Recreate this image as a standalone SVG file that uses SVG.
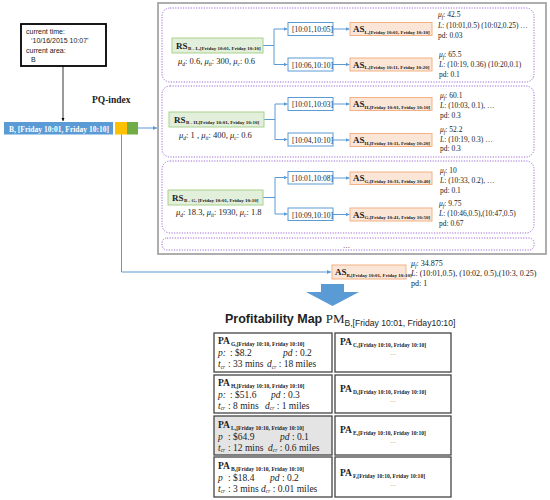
<svg xmlns="http://www.w3.org/2000/svg" width="550" height="500" viewBox="0 0 550 500">
<defs>
<marker id="ab" viewBox="0 0 6 6" refX="6" refY="3" markerWidth="4" markerHeight="4" orient="auto"><path d="M0,0 L6,3 L0,6 z" fill="#5b9bd5"/></marker>
<marker id="ak" viewBox="0 0 6 6" refX="6" refY="3" markerWidth="4" markerHeight="4" orient="auto"><path d="M0,0 L6,3 L0,6 z" fill="#000"/></marker>
<style>
text{font-family:"Liberation Serif",serif;fill:#222}
.sans{font-family:"Liberation Sans",sans-serif}
.cn{fill:none;stroke:#5b9bd5;stroke-width:1}
.dot{fill:none;stroke:#9d6bd6;stroke-width:1;stroke-dasharray:1.2 1.4}
.rs{fill:#e2efda;stroke:#a9d18e;stroke-width:1}
.as{fill:#fbe5d6;stroke:#f4b183;stroke-width:1}
.iv{fill:#fff;stroke:#5b9bd5;stroke-width:1}
.cell{fill:#fff;stroke:#444;stroke-width:1.3}
.lb{font-size:9px;font-weight:bold}
.sb{font-size:5px;font-weight:bold}
.psb{font-size:5.6px;font-weight:bold}
.t8{font-size:7.5px}
.mu{font-size:8.5px}
.it{font-style:italic}
.s5{font-size:5.5px}
.pa{font-size:9.5px;font-weight:bold}
.pl{font-size:9.5px}
.dots{font-size:6px;fill:#888}
</style>
</defs>

<g id="current">
<rect x="21" y="24" width="85" height="42" fill="#fff" stroke="#000" stroke-width="1.8"/>
<text class="sans" font-size="7" x="26" y="34">current time:</text>
<text class="sans" font-size="7" x="31" y="43">‘10/16/2015 10:07’</text>
<text class="sans" font-size="7" x="26" y="53">current area:</text>
<text class="sans" font-size="7" x="31" y="62">B</text>
</g>

<text id="pq-label" x="92" y="103" font-size="9.5" font-weight="bold">PQ-index</text>

<g id="bar">
<rect x="4" y="122" width="109" height="12.5" fill="#5b9bd5"/>
<text x="9" y="131.5" font-size="7.5" font-weight="bold" style="fill:#fff" textLength="100">B, [Friday 10:01, Friday 10:10]</text>
<rect x="115" y="122" width="12" height="12.5" fill="#ffc000"/>
<rect x="127" y="122" width="11" height="12.5" fill="#70ad47"/>
</g>

<g id="bigbox">
<rect x="158" y="3" width="388" height="251" fill="#fff" stroke="#a6a6a6" stroke-width="1.8"/>
<rect class="dot" x="162" y="8" width="372" height="74" rx="8"/>
<rect class="dot" x="162" y="86" width="372" height="71" rx="8"/>
<rect class="dot" x="162" y="161" width="372" height="72" rx="8"/>
<rect class="dot" x="162" y="238" width="372" height="12" rx="5"/>
<text x="343" y="248" font-size="7">…</text>
</g>

<g id="connectors">
<line x1="63" y1="66" x2="63" y2="121" stroke="#000" stroke-width="0.8" marker-end="url(#ak)"/>
<line class="cn" x1="138" y1="128" x2="157" y2="128" marker-end="url(#ab)"/>
<polyline class="cn" points="121.5,134.5 121.5,272 331,272" marker-end="url(#ab)"/>
<polyline class="cn" points="263,45.5 274,45.5"/>
<line class="cn" x1="274" y1="29" x2="274" y2="64.5"/>
<line class="cn" x1="274" y1="29" x2="287.5" y2="29" marker-end="url(#ab)"/>
<line class="cn" x1="274" y1="64.5" x2="287.5" y2="64.5" marker-end="url(#ab)"/>
<line class="cn" x1="333" y1="29" x2="349.5" y2="29" marker-end="url(#ab)"/>
<line class="cn" x1="333" y1="64.5" x2="349.5" y2="64.5" marker-end="url(#ab)"/>
<polyline class="cn" points="264,119.5 275,119.5"/>
<line class="cn" x1="275" y1="104" x2="275" y2="139.5"/>
<line class="cn" x1="275" y1="104" x2="287.5" y2="104" marker-end="url(#ab)"/>
<line class="cn" x1="275" y1="139.5" x2="287.5" y2="139.5" marker-end="url(#ab)"/>
<line class="cn" x1="333" y1="104" x2="349.5" y2="104" marker-end="url(#ab)"/>
<line class="cn" x1="333" y1="140" x2="349.5" y2="140" marker-end="url(#ab)"/>
<polyline class="cn" points="263,197.5 275,197.5"/>
<line class="cn" x1="275" y1="177.5" x2="275" y2="214"/>
<line class="cn" x1="275" y1="177.5" x2="287.5" y2="177.5" marker-end="url(#ab)"/>
<line class="cn" x1="275" y1="214" x2="287.5" y2="214" marker-end="url(#ab)"/>
<line class="cn" x1="333" y1="178" x2="349.5" y2="178" marker-end="url(#ab)"/>
<line class="cn" x1="333" y1="214.5" x2="349.5" y2="214.5" marker-end="url(#ab)"/>
</g>

<g id="rs1">
<rect class="rs" x="172" y="38" width="91" height="15"/>
<text class="lb" x="176" y="48.5">RS</text>
<text class="sb" x="188" y="50">B - L,[Friday  10:01, Friday  10:10]</text>
<text class="mu" x="178" y="64"><tspan class="it">μ</tspan><tspan class="s5 it" dy="1.5">d</tspan><tspan dy="-1.5">: 0.6, </tspan><tspan class="it">μ</tspan><tspan class="s5 it" dy="1.5">tt</tspan><tspan dy="-1.5">: 300, </tspan><tspan class="it">μ</tspan><tspan class="s5 it" dy="1.5">c</tspan><tspan dy="-1.5">: 0.6</tspan></text>
</g>
<g id="iv1a"><rect class="iv" x="288" y="22.5" width="45" height="13"/><text class="t8" x="292" y="32">[10:01,10:05]</text></g>
<g id="iv1b"><rect class="iv" x="288" y="58" width="45" height="13"/><text class="t8" x="292" y="67.5">[10:06,10:10]</text></g>
<g id="as1a"><rect class="as" x="350" y="22.5" width="82" height="13"/><text class="lb" x="353" y="32">AS</text><text class="sb" x="364.5" y="33.5">L,[Friday 10:01, Friday 10:10]</text></g>
<g id="as1b"><rect class="as" x="350" y="58" width="82" height="13"/><text class="lb" x="353" y="67.5">AS</text><text class="sb" x="364.5" y="69">L,[Friday 10:11, Friday 10:20]</text></g>
<g id="info1">
<text class="t8" x="438" y="17"><tspan class="it">μ</tspan><tspan class="s5 it" dy="1.5">f</tspan><tspan dy="-1.5">: 42.5</tspan></text>
<text class="t8" x="438" y="28"><tspan class="it">L</tspan>: (10:01,0.5) (10:02,0.25) …</text>
<text class="t8" x="438" y="38">pd: 0.03</text>
<text class="t8" x="439" y="57"><tspan class="it">μ</tspan><tspan class="s5 it" dy="1.5">f</tspan><tspan dy="-1.5">: 65.5</tspan></text>
<text class="t8" x="439" y="67"><tspan class="it">L</tspan>: (10:19,  0.36) (10:20,0.1)</text>
<text class="t8" x="439" y="77">pd: 0.1</text>
</g>

<g id="rs2">
<rect class="rs" x="169" y="112" width="95" height="15"/>
<text class="lb" x="174" y="122.5">RS</text>
<text class="sb" x="186" y="124">B - H,[Friday  10:01, Friday  10:10]</text>
<text class="mu" x="179" y="138"><tspan class="it">μ</tspan><tspan class="s5 it" dy="1.5">d</tspan><tspan dy="-1.5">: 1 , </tspan><tspan class="it">μ</tspan><tspan class="s5 it" dy="1.5">tt</tspan><tspan dy="-1.5">: 400, </tspan><tspan class="it">μ</tspan><tspan class="s5 it" dy="1.5">c</tspan><tspan dy="-1.5">: 0.6</tspan></text>
</g>
<g id="iv2a"><rect class="iv" x="288" y="97.5" width="45" height="13"/><text class="t8" x="292" y="107">[10:01,10:03]</text></g>
<g id="iv2b"><rect class="iv" x="288" y="133" width="45" height="13"/><text class="t8" x="292" y="142.5">[10:04,10:10]</text></g>
<g id="as2a"><rect class="as" x="350" y="97.5" width="82" height="13"/><text class="lb" x="353" y="107">AS</text><text class="sb" x="364.5" y="108.5">H,[Friday 10:01, Friday 10:10]</text></g>
<g id="as2b"><rect class="as" x="350" y="133.5" width="82" height="13"/><text class="lb" x="353" y="143">AS</text><text class="sb" x="364.5" y="144.5">H,[Friday 10:11, Friday 10:20]</text></g>
<g id="info2">
<text class="t8" x="440" y="98"><tspan class="it">μ</tspan><tspan class="s5 it" dy="1.5">f</tspan><tspan dy="-1.5">: 60.1</tspan></text>
<text class="t8" x="440" y="108"><tspan class="it">L</tspan>: (10:03,  0.1), …</text>
<text class="t8" x="440" y="118">pd: 0.3</text>
<text class="t8" x="440" y="132"><tspan class="it">μ</tspan><tspan class="s5 it" dy="1.5">f</tspan><tspan dy="-1.5">: 52.2</tspan></text>
<text class="t8" x="440" y="142"><tspan class="it">L</tspan>: (10:19,  0.3) …</text>
<text class="t8" x="440" y="151">pd: 0.3</text>
</g>

<g id="rs3">
<rect class="rs" x="168" y="190" width="95" height="15"/>
<text class="lb" x="172" y="200.5">RS</text>
<text class="sb" x="184" y="202">B - G, [Friday  10:01, Friday  10:10]</text>
<text class="mu" x="176" y="215"><tspan class="it">μ</tspan><tspan class="s5 it" dy="1.5">d</tspan><tspan dy="-1.5">: 18.3, </tspan><tspan class="it">μ</tspan><tspan class="s5 it" dy="1.5">tt</tspan><tspan dy="-1.5">: 1930, </tspan><tspan class="it">μ</tspan><tspan class="s5 it" dy="1.5">c</tspan><tspan dy="-1.5">: 1.8</tspan></text>
</g>
<g id="iv3a"><rect class="iv" x="288" y="171.5" width="45" height="12.5"/><text class="t8" x="292" y="181">[10:01,10:08]</text></g>
<g id="iv3b"><rect class="iv" x="288" y="208" width="45" height="12.5"/><text class="t8" x="292" y="217.5">[10:09,10:10]</text></g>
<g id="as3a"><rect class="as" x="350" y="172" width="82" height="12.5"/><text class="lb" x="353" y="181">AS</text><text class="sb" x="364.5" y="182.5">G,[Friday 10:31, Friday 10:40]</text></g>
<g id="as3b"><rect class="as" x="350" y="208" width="82" height="13"/><text class="lb" x="353" y="217.5">AS</text><text class="sb" x="364.5" y="219">G,[Friday 10:41, Friday 10:50]</text></g>
<g id="info3">
<text class="t8" x="440" y="173"><tspan class="it">μ</tspan><tspan class="s5 it" dy="1.5">f</tspan><tspan dy="-1.5">: 10</tspan></text>
<text class="t8" x="440" y="183"><tspan class="it">L</tspan>: (10:33,  0.2), …</text>
<text class="t8" x="440" y="193">pd: 0.1</text>
<text class="t8" x="439" y="206"><tspan class="it">μ</tspan><tspan class="s5 it" dy="1.5">f</tspan><tspan dy="-1.5">: 9.75</tspan></text>
<text class="t8" x="439" y="216"><tspan class="it">L</tspan>: (10:46,0.5),(10:47,0.5)</text>
<text class="t8" x="439" y="226">pd: 0.67</text>
</g>

<g id="asB">
<rect class="as" x="332" y="265" width="74" height="14"/>
<text class="lb" x="335" y="275">AS</text>
<text class="sb" x="346.5" y="276.5" font-size="4.6">B,[Friday 10:01, Friday 10:10]</text>
<text x="411" y="266" font-size="8"><tspan class="it">μ</tspan><tspan class="s5 it" dy="1.5">f</tspan><tspan dy="-1.5">: 34.875</tspan></text>
<text x="411" y="276" font-size="8"><tspan class="it">L</tspan>:  (10:01,0.5), (10:02, 0.5),(10:3, 0.25)</text>
<text x="411" y="286" font-size="8">pd: 1</text>
</g>

<path id="bigarrow" d="M321,284 L344,284 L344,292 L359,292 L332.5,306 L306,292 L321,292 z" fill="#5b9bd5"/>

<text id="title" x="225" y="323"><tspan class="sans" font-size="12.5" font-weight="bold">Profitability Map </tspan><tspan font-size="13">PM</tspan><tspan class="sans" font-size="8.6" dy="3">B,[Friday 10:01, Friday10:10]</tspan></text>

<g id="paG">
<rect class="cell" x="214" y="333" width="118" height="39"/>
<text class="pa" x="218" y="344">PA</text><text class="psb" x="231" y="345.5">G,[Friday 10:10, Friday 10:10]</text>
<text class="pl" x="218" y="356"><tspan class="it">p:</tspan><tspan x="230">: $8.2</tspan><tspan x="283" class="it">pd</tspan><tspan> : 0.2</tspan></text>
<text class="pl" x="218" y="367"><tspan class="it">t</tspan><tspan class="it" font-size="5.5" dy="1.5">cr</tspan><tspan dy="-1.5" x="228">: 33 mins</tspan><tspan x="267" class="it">d</tspan><tspan class="it" font-size="5.5" dy="1.5">cr</tspan><tspan dy="-1.5"> : 18 miles</tspan></text>
</g>
<g id="paH">
<rect class="cell" x="214" y="375" width="118" height="38"/>
<text class="pa" x="218" y="386">PA</text><text class="psb" x="231" y="387.5">H,[Friday 10:10, Friday 10:10]</text>
<text class="pl" x="218" y="397.5"><tspan class="it">p:</tspan><tspan x="230">: $51.6</tspan><tspan x="271" class="it">pd</tspan><tspan> : 0.3</tspan></text>
<text class="pl" x="218" y="408.5"><tspan class="it">t</tspan><tspan class="it" font-size="5.5" dy="1.5">cr</tspan><tspan dy="-1.5" x="228">: 8 mins</tspan><tspan x="265" class="it">d</tspan><tspan class="it" font-size="5.5" dy="1.5">cr</tspan><tspan dy="-1.5"> : 1 miles</tspan></text>
</g>
<g id="paL">
<rect class="cell" x="214" y="416" width="118" height="39" style="fill:#e4e4e4"/>
<text class="pa" x="218" y="428">PA</text><text class="psb" x="231" y="429.5">L,[Friday 10:10, Friday 10:10]</text>
<text class="pl" x="218" y="439.5"><tspan class="it">p</tspan><tspan x="228">: $64.9</tspan><tspan x="280" class="it">pd</tspan><tspan> : 0.1</tspan></text>
<text class="pl" x="218" y="450.5"><tspan class="it">t</tspan><tspan class="it" font-size="5.5" dy="1.5">cr</tspan><tspan dy="-1.5" x="228">: 12 mins</tspan><tspan x="268" class="it">d</tspan><tspan class="it" font-size="5.5" dy="1.5">cr</tspan><tspan dy="-1.5"> : 0.6 miles</tspan></text>
</g>
<g id="paB">
<rect class="cell" x="214" y="457" width="118" height="40"/>
<text class="pa" x="218" y="469">PA</text><text class="psb" x="231" y="470.5">B,[Friday 10:10, Friday 10:10]</text>
<text class="pl" x="218" y="481"><tspan class="it">p</tspan><tspan x="228">: $18.4</tspan><tspan x="270" class="it">pd</tspan><tspan> : 0.2</tspan></text>
<text class="pl" x="218" y="491.5"><tspan class="it">t</tspan><tspan class="it" font-size="5.5" dy="1.5">cr</tspan><tspan dy="-1.5" x="228">: 3 mins</tspan><tspan x="261" class="it">d</tspan><tspan class="it" font-size="5.5" dy="1.5">cr</tspan><tspan dy="-1.5"> : 0.01 miles</tspan></text>
</g>
<g id="paC">
<rect class="cell" x="335" y="333" width="116" height="39"/>
<text class="pa" x="340" y="345">PA</text><text class="psb" x="353" y="346.5">C,[Friday 10:10, Friday 10:10]</text>
<text class="dots" x="393" y="355" text-anchor="middle">…</text>
</g>
<g id="paD">
<rect class="cell" x="335" y="375" width="116" height="38"/>
<text class="pa" x="340" y="392">PA</text><text class="psb" x="353" y="393.5">D,[Friday 10:10, Friday 10:10]</text>
<text class="dots" x="393" y="402" text-anchor="middle">…</text>
</g>
<g id="paE">
<rect class="cell" x="335" y="416" width="116" height="39"/>
<text class="pa" x="340" y="433">PA</text><text class="psb" x="353" y="434.5">E,[Friday 10:10, Friday 10:10]</text>
<text class="dots" x="393" y="443" text-anchor="middle">…</text>
</g>
<g id="paF">
<rect class="cell" x="335" y="457" width="116" height="40"/>
<text class="pa" x="340" y="476">PA</text><text class="psb" x="353" y="477.5">F,[Friday 10:10, Friday 10:10]</text>
<text class="dots" x="393" y="486" text-anchor="middle">…</text>
</g>
</svg>
